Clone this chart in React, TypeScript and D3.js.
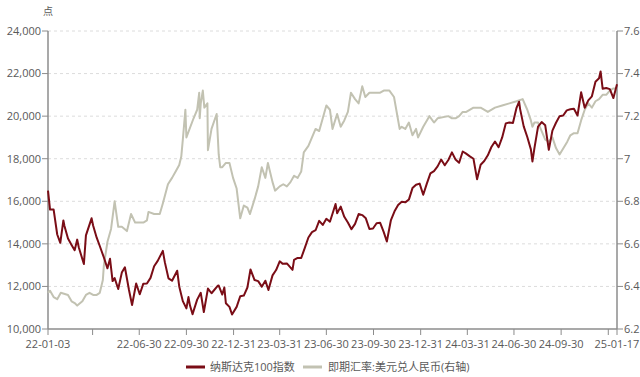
import React from "react";
import * as d3 from "d3";

const ndxDates = [
  "22-01-03","22-01-07","22-01-14","22-01-21","22-01-27","22-02-02","22-02-04","22-02-11","22-02-18","22-02-24",
  "22-03-01","22-03-04","22-03-14","22-03-18","22-03-29","22-04-01","22-04-08","22-04-14","22-04-22","22-04-29",
  "22-05-04","22-05-09","22-05-13","22-05-20","22-05-27","22-06-02","22-06-10","22-06-16","22-06-24","22-07-01",
  "22-07-08","22-07-15","22-07-22","22-07-29","22-08-05","22-08-15","22-08-19","22-08-26","22-09-02","22-09-12",
  "22-09-16","22-09-23","22-09-30","22-10-04","22-10-07","22-10-12","22-10-14","22-10-21","22-10-28","22-11-03",
  "22-11-11","22-11-18","22-11-30","22-12-02","22-12-09","22-12-13","22-12-16","22-12-23","22-12-28","23-01-06",
  "23-01-13","23-01-20","23-01-27","23-02-02","23-02-10","23-02-17","23-02-24","23-03-03","23-03-09","23-03-17",
  "23-03-24","23-03-31","23-04-06","23-04-14","23-04-25","23-04-28","23-05-05","23-05-12","23-05-19","23-05-26",
  "23-06-02","23-06-09","23-06-16","23-06-23","23-06-30","23-07-07","23-07-14","23-07-18","23-07-21","23-07-28",
  "23-08-04","23-08-11","23-08-18","23-08-25","23-09-01","23-09-08","23-09-15","23-09-22","23-09-29","23-10-06",
  "23-10-13","23-10-20","23-10-26","23-11-03","23-11-10","23-11-17","23-11-24","23-12-01","23-12-08","23-12-15",
  "23-12-22","23-12-29","24-01-05","24-01-12","24-01-19","24-01-26","24-02-02","24-02-09","24-02-16","24-02-23",
  "24-03-01","24-03-08","24-03-15","24-03-22","24-03-28","24-04-05","24-04-12","24-04-19","24-04-26","24-05-03",
  "24-05-10","24-05-17","24-05-24","24-05-31","24-06-07","24-06-14","24-06-21","24-06-28","24-07-05","24-07-10",
  "24-07-12","24-07-19","24-07-26","24-08-02","24-08-05","24-08-09","24-08-16","24-08-23","24-08-30","24-09-06",
  "24-09-13","24-09-20","24-09-27","24-10-04","24-10-11","24-10-18","24-10-25","24-11-01","24-11-08","24-11-15",
  "24-11-22","24-11-29","24-12-06","24-12-13","24-12-16","24-12-20","24-12-27","25-01-03","25-01-10","25-01-17",
];
const ndxValues = [
  16500,15610,15610,14440,14050,15100,14850,14250,13950,13700,
  14200,13840,13050,14400,15200,14860,14290,13900,13360,12850,
  13300,12250,12390,11880,12650,12900,11830,11130,12140,11630,
  12130,12140,12400,12950,13200,13670,13130,12380,12270,12740,
  12000,11310,10970,11500,11100,10690,10850,11380,11700,10800,
  11900,11680,12030,12040,11620,11950,11210,11040,10680,11040,
  11540,11570,11950,12800,12300,12250,11990,12270,11830,12520,
  12770,13180,13060,13080,12780,13250,13340,13340,13810,14300,
  14550,14640,15080,14890,15180,15040,15570,15870,15440,15750,
  15270,15000,14690,14940,15400,15350,15200,14700,14720,14970,
  14990,14550,14110,15120,15530,15830,15980,15950,16080,16620,
  16780,16830,16310,16830,17310,17420,17640,17960,17690,17940,
  18300,17960,17810,18340,18250,18110,18000,17040,17720,17890,
  18160,18550,18810,18540,19000,19660,19700,19680,20390,20680,
  20330,19520,19020,18440,17870,18510,19510,19720,19570,18420,
  19320,19690,20000,20030,20270,20320,20350,20030,21120,20390,
  20740,20930,21620,21780,22100,21290,21320,21270,20850,21500,
];

const cnyDates = [
  "22-01-03","22-01-07","22-01-14","22-01-21","22-01-28","22-02-11","22-02-18","22-02-25","22-03-01","22-03-11",
  "22-03-18","22-03-25","22-04-01","22-04-08","22-04-14","22-04-20","22-04-22","22-04-29","22-05-06","22-05-13",
  "22-05-20","22-05-27","22-06-06","22-06-14","22-06-22","22-07-01","22-07-08","22-07-15","22-07-18","22-07-29",
  "22-08-09","22-08-15","22-08-25","22-09-02","22-09-09","22-09-16","22-09-20","22-09-23","22-09-28","22-09-30",
  "22-10-14","22-10-21","22-10-25","22-10-26","22-10-28","22-11-01","22-11-04","22-11-10","22-11-11","22-11-18",
  "22-11-28","22-12-02","22-12-05","22-12-09","22-12-16","22-12-23","22-12-30","23-01-06","23-01-13","23-01-20",
  "23-01-27","23-02-01","23-02-10","23-02-17","23-02-24","23-03-03","23-03-08","23-03-17","23-03-22","23-03-31",
  "23-04-07","23-04-14","23-04-21","23-04-28","23-05-05","23-05-12","23-05-17","23-05-26","23-06-02","23-06-09",
  "23-06-16","23-06-23","23-06-30","23-07-07","23-07-12","23-07-21","23-07-28","23-08-04","23-08-11","23-08-17",
  "23-08-25","23-09-01","23-09-08","23-09-14","23-09-22","23-10-13","23-10-20","23-10-31","23-11-09","23-11-20",
  "23-11-24","23-12-01","23-12-08","23-12-15","23-12-22","23-12-26","24-01-05","24-01-17","24-01-26","24-02-02",
  "24-02-23","24-03-01","24-03-08","24-03-15","24-03-22","24-03-29","24-04-12","24-04-26","24-05-10","24-05-24",
  "24-06-07","24-06-21","24-07-05","24-07-17","24-07-26","24-08-02","24-08-05","24-08-09","24-08-16","24-08-23",
  "24-08-30","24-09-06","24-09-13","24-09-20","24-09-27","24-10-12","24-10-18","24-10-25","24-11-01","24-11-08",
  "24-11-15","24-11-22","24-11-29","24-12-06","24-12-13","24-12-20","24-12-27","25-01-03","25-01-10","25-01-17",
];
const cnyValues = [
  6.37,6.38,6.35,6.34,6.37,6.36,6.33,6.32,6.31,6.33,
  6.36,6.37,6.36,6.36,6.37,6.43,6.50,6.61,6.67,6.80,
  6.68,6.68,6.66,6.74,6.70,6.70,6.70,6.71,6.75,6.74,
  6.74,6.79,6.88,6.91,6.94,6.97,7.01,7.09,7.23,7.10,
  7.19,7.23,7.31,7.19,7.26,7.32,7.24,7.26,7.04,7.14,
  7.21,7.02,6.96,6.96,6.98,6.98,6.91,6.86,6.72,6.78,
  6.77,6.74,6.81,6.87,6.96,6.91,6.98,6.89,6.85,6.87,
  6.88,6.87,6.89,6.92,6.91,6.94,7.03,7.06,7.10,7.14,
  7.13,7.19,7.25,7.23,7.14,7.21,7.15,7.18,7.22,7.31,
  7.28,7.26,7.34,7.29,7.31,7.31,7.32,7.32,7.29,7.14,
  7.15,7.14,7.17,7.11,7.14,7.10,7.15,7.20,7.17,7.19,
  7.20,7.19,7.19,7.20,7.22,7.22,7.24,7.24,7.22,7.24,
  7.25,7.26,7.27,7.28,7.23,7.18,7.15,7.17,7.17,7.13,
  7.09,7.08,7.10,7.05,7.02,7.08,7.11,7.12,7.12,7.18,
  7.23,7.26,7.24,7.27,7.28,7.30,7.30,7.32,7.33,7.33,
];

const leftTicks = [10000, 12000, 14000, 16000, 18000, 20000, 22000, 24000];
const rightTicks = [6.2, 6.4, 6.6, 6.8, 7.0, 7.2, 7.4, 7.6];
const xTickDates = ["22-01-03","22-03-31","22-06-30","22-09-30","22-12-31","23-03-31","23-06-30","23-09-30","23-12-31","24-03-31","24-06-30","24-09-30","24-12-31","25-01-17"];
const xLabelDates = ["22-01-03","22-06-30","22-09-30","22-12-31","23-03-31","23-06-30","23-09-30","23-12-31","24-03-31","24-06-30","24-09-30","25-01-17"];
const seriesNames = ["纳斯达克100指数", "即期汇率:美元兑人民币(右轴)"];
const unitLabel = "点";

const parse = d3.timeParse("%y-%m-%d");

export default function App() {
  const W = 640, H = 377;
  const left = 48, right = 617, top = 31, bottom = 329;
  const x = d3.scaleTime().domain([parse("22-01-03")!, parse("25-01-17")!]).range([left, right]);
  const yL = d3.scaleLinear().domain([10000, 24000]).range([bottom, top]);
  const yR = d3.scaleLinear().domain([6.2, 7.6]).range([bottom, top]);

  const ndx = ndxDates.map((d, i) => ({ d: parse(d)!, v: ndxValues[i] }));
  const cny = cnyDates.map((d, i) => ({ d: parse(d)!, v: cnyValues[i] }));
  const lineL = d3.line<{ d: Date; v: number }>().x(p => x(p.d)).y(p => yL(p.v));
  const lineR = d3.line<{ d: Date; v: number }>().x(p => x(p.d)).y(p => yR(p.v));

  const font = "'Open Sans', 'Noto Sans CJK SC', sans-serif";
  const textColor = "#595959";
  const axisColor = "#8c8c8c";
  const red = "#7a0d16";
  const gray = "#c2c2b2";

  return (
    <svg width={W} height={H} style={{ position: "absolute", left: 0, top: 0, background: "#fff" }} fontFamily={font}>
      {leftTicks.map(t => (
        t > 10000 ? <line key={"g" + t} x1={left} x2={right} y1={yL(t)} y2={yL(t)} stroke="#dcdcdc" strokeDasharray="3,3" strokeWidth={1} /> : null
      ))}
      <line x1={left} x2={left} y1={top} y2={bottom} stroke={axisColor} strokeWidth={1.5} />
      <line x1={right} x2={right} y1={top} y2={bottom} stroke={axisColor} strokeWidth={1.5} />
      <line x1={left} x2={right} y1={bottom} y2={bottom} stroke={axisColor} strokeWidth={1.5} />
      {leftTicks.map(t => (
        <g key={"l" + t}>
          <line x1={left - 6} x2={left} y1={yL(t)} y2={yL(t)} stroke={axisColor} />
          <text x={left - 7} y={yL(t)} dy="0.35em" textAnchor="end" fontSize={11} fill={textColor}>{d3.format(",")(t)}</text>
        </g>
      ))}
      {rightTicks.map(t => (
        <g key={"r" + t}>
          <line x1={right} x2={right + 6} y1={yR(t)} y2={yR(t)} stroke={axisColor} />
          <text x={right + 7} y={yR(t)} dy="0.35em" textAnchor="start" fontSize={11} fill={textColor}>{String(+t.toFixed(1))}</text>
        </g>
      ))}
      {xTickDates.map(d => (
        <line key={"xt" + d} x1={x(parse(d)!)} x2={x(parse(d)!)} y1={bottom} y2={bottom + 6} stroke={axisColor} />
      ))}
      {xLabelDates.map(d => (
        <text key={"xl" + d} x={x(parse(d)!)} y={bottom + 19} textAnchor="middle" fontSize={11} fill={textColor}>{d}</text>
      ))}
      <text x={left} y={15} textAnchor="middle" fontSize={10} fill={textColor}>{unitLabel}</text>
      <path d={lineR(cny)!} fill="none" stroke={gray} strokeWidth={2} strokeLinejoin="round" />
      <path d={lineL(ndx)!} fill="none" stroke={red} strokeWidth={2} strokeLinejoin="round" />
      <g transform="translate(186,367)">
        <line x1={0} x2={19} y1={0} y2={0} stroke={red} strokeWidth={3} />
        <text x={24} y={0} dy="0.35em" fontSize={11} fill={textColor}>{seriesNames[0]}</text>
        <line x1={117} x2={136} y1={0} y2={0} stroke={gray} strokeWidth={3} />
        <text x={142} y={0} dy="0.35em" fontSize={11} fill={textColor}>{seriesNames[1]}</text>
      </g>
    </svg>
  );
}
